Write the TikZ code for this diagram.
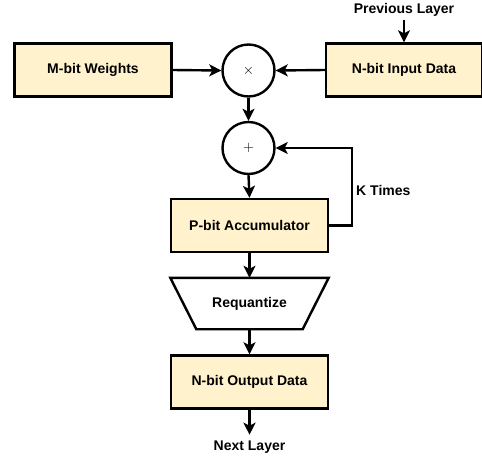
\documentclass[tikz,border=0pt]{standalone}
\usepackage{fontspec}
\setmainfont{Liberation Sans}
\usetikzlibrary{arrows.meta,calc}
\definecolor{boxfill}{HTML}{FFF2CC}
\begin{document}
\begin{tikzpicture}[x=1pt,y=-1pt,
  txt/.style={font=\fontsize{14}{16}\selectfont\bfseries},
  box/.style={txt,draw=black,line width=2.4pt,fill=boxfill,minimum width=157pt,minimum height=53pt,inner sep=0pt},
  op/.style={draw=black,line width=2.4pt,circle,minimum size=52pt,inner sep=0pt,font=\fontsize{15}{17}\selectfont},
  lab/.style={txt,inner sep=0pt},
  arr/.style={line width=2.4pt,-{Stealth[length=12pt,width=12pt,inset=3pt]}}]
\useasboundingbox (0,0) rectangle (482,456);
\node[box] (w) at (93,70) {M-bit Weights};
\node[box,minimum width=156pt] (in) at (404,70) {N-bit Input Data};
\node[op] (mul) at (248.5,70.5) {$\times$};
\node[op] (add) at (248.5,148) {$+$};
\node[box] (acc) at (249.5,225.5) {P-bit Accumulator};
\node[txt,minimum width=158pt,minimum height=51pt,inner sep=0pt] (rq) at (249.5,303.5) {Requantize};
\draw[line width=2.4pt,line join=miter] (rq.north west) -- (rq.north east) -- ($(rq.south east)+(-26,0)$) -- ($(rq.south west)+(26,0)$) -- cycle;
\node[box] (out) at (249.5,382) {N-bit Output Data};
\node[lab] (prev) at (404,10) {Previous Layer};
\node[lab] (next) at (249.5,447) {Next Layer};
\node[lab,anchor=west] (kt) at (356,190) {K Times};
\coordinate (c1) at (352,225.5);
\coordinate (c2) at (352,148);
\draw[arr] (prev.south) ++(0,3) -- (in.north);
\draw[arr] (w.east) -- (mul.west);
\draw[arr] (in.west) -- (mul.east);
\draw[arr] (mul.south) -- (add.north);
\draw[arr] (add.south) -- (acc.north);
\draw[arr] (acc.east) -- (c1) -- (c2) -- (add.east);
\draw[arr] (acc.south) -- (rq.north);
\draw[arr] (rq.south) -- (out.north);
\draw[arr] (out.south) -- ++(0,25);
\end{tikzpicture}
\end{document}
